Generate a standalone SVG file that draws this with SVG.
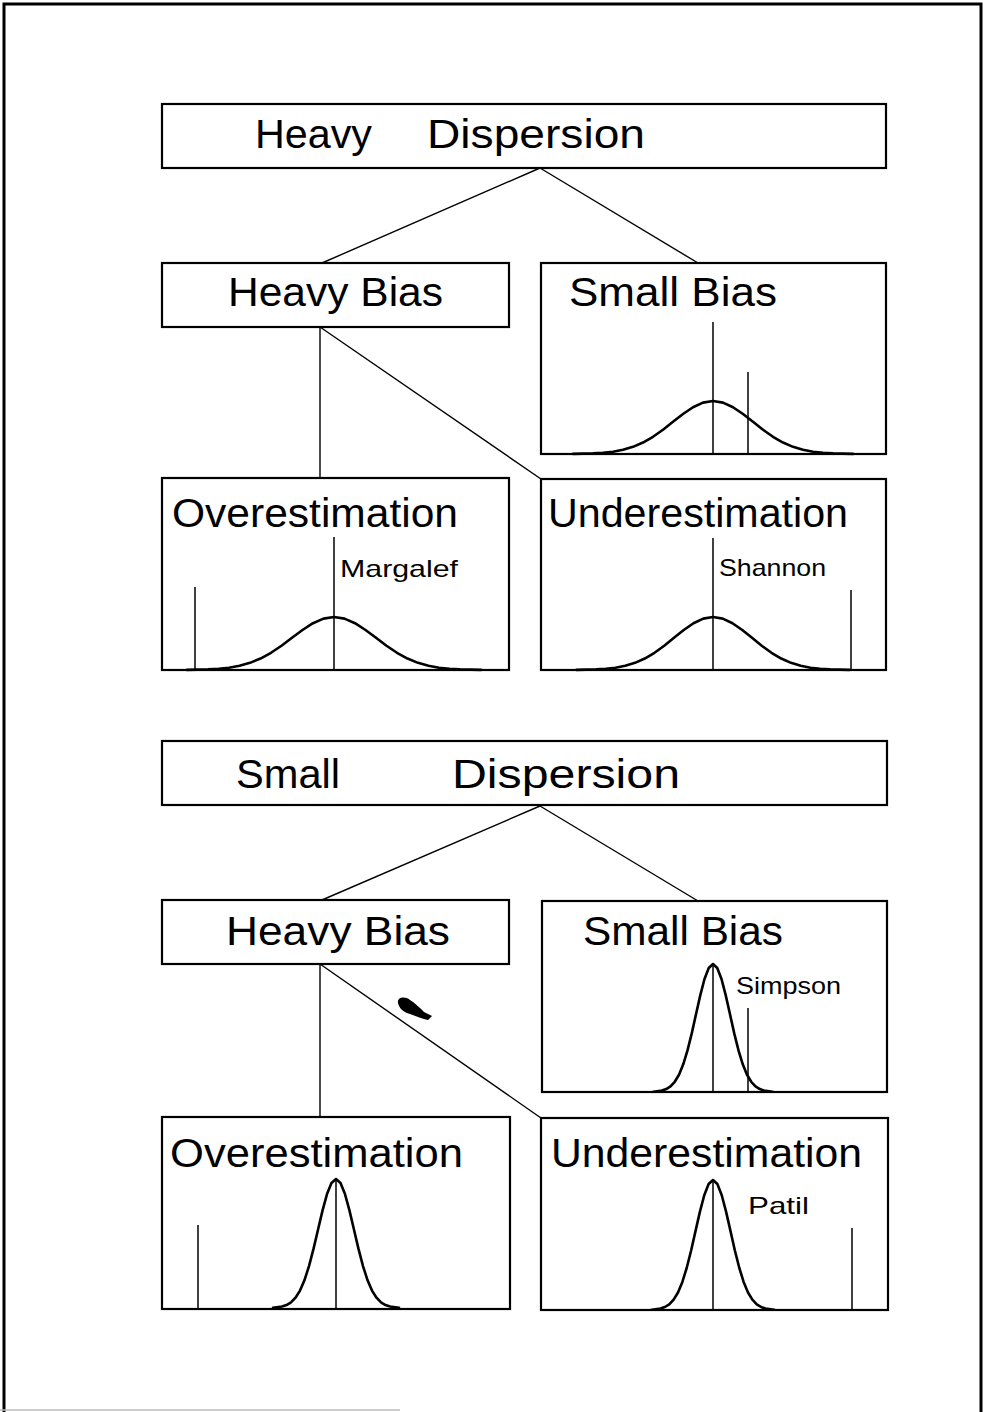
<svg xmlns="http://www.w3.org/2000/svg" width="985" height="1412" viewBox="0 0 985 1412">
<style>
.box{fill:#fff;stroke:#000;stroke-width:2.2}
.conn{stroke:#000;stroke-width:1.4;fill:none}
.tick{stroke:#000;stroke-width:1.5}
.bell{fill:none;stroke:#000;stroke-width:2.6;stroke-linejoin:round;stroke-linecap:round}
.h{font-family:"Liberation Sans",Arial,sans-serif;font-size:40px;fill:#000}
.s{font-family:"Liberation Sans",Arial,sans-serif;font-size:24px;fill:#000}
</style>
<defs>
<path id="g" vector-effect="non-scaling-stroke" d="M-3.5,-0.002 L-3,-0.011 L-2.75,-0.023 L-2.5,-0.044 L-2.25,-0.080 L-2,-0.135 L-1.75,-0.216 L-1.5,-0.325 L-1.25,-0.458 L-1,-0.607 L-0.75,-0.755 L-0.5,-0.883 L-0.25,-0.969 L0,-1 L0.25,-0.969 L0.5,-0.883 L0.75,-0.755 L1,-0.607 L1.25,-0.458 L1.5,-0.325 L1.75,-0.216 L2,-0.135 L2.25,-0.080 L2.5,-0.044 L2.75,-0.023 L3,-0.011 L3.5,-0.002"/>
</defs>
<rect width="985" height="1412" fill="#fff"/>
<path d="M4,1412 V4 H981 V1412" fill="none" stroke="#000" stroke-width="3"/>
<line x1="0" y1="1410" x2="400" y2="1410" stroke="#bbb" stroke-width="1.5"/>

<g id="connectors">
<line class="conn" x1="540" y1="168" x2="322" y2="263"/>
<line class="conn" x1="540" y1="168" x2="698" y2="263"/>
<line class="conn" x1="320" y1="327" x2="320" y2="478"/>
<line class="conn" x1="320" y1="327" x2="541" y2="479"/>
<line class="conn" x1="540" y1="806" x2="322" y2="900"/>
<line class="conn" x1="540" y1="806" x2="698" y2="901"/>
<line class="conn" x1="320" y1="964" x2="320" y2="1117"/>
<line class="conn" x1="320" y1="964" x2="541" y2="1118"/>
</g>

<g id="heavy-dispersion">
<rect class="box" x="162" y="104" width="724" height="64"/>
<text class="h" x="255" y="148" textLength="117" lengthAdjust="spacingAndGlyphs">Heavy</text>
<text class="h" x="427" y="148" textLength="218" lengthAdjust="spacingAndGlyphs">Dispersion</text>
</g>

<g id="hd-heavy-bias">
<rect class="box" x="162" y="263" width="347" height="64"/>
<text class="h" x="228" y="306" textLength="215" lengthAdjust="spacingAndGlyphs">Heavy Bias</text>
</g>

<g id="hd-small-bias">
<rect class="box" x="541" y="263" width="345" height="191"/>
<text class="h" x="569" y="306" textLength="208" lengthAdjust="spacingAndGlyphs">Small Bias</text>
<line class="tick" x1="713" y1="322" x2="713" y2="454"/>
<line class="tick" x1="748" y1="372" x2="748" y2="454"/>
<use href="#g" class="bell" transform="translate(713,454) scale(40,53)"/>
</g>

<g id="hd-overestimation">
<rect class="box" x="162" y="478" width="347" height="192"/>
<text class="h" x="172" y="527" textLength="286" lengthAdjust="spacingAndGlyphs">Overestimation</text>
<line class="tick" x1="334" y1="537" x2="334" y2="670"/>
<line class="tick" x1="195" y1="587" x2="195" y2="670"/>
<text class="s" x="340" y="577" textLength="118" lengthAdjust="spacingAndGlyphs">Margalef</text>
<use href="#g" class="bell" transform="translate(334,670) scale(42,53)"/>
</g>

<g id="hd-underestimation">
<rect class="box" x="541" y="479" width="345" height="191"/>
<text class="h" x="548" y="527" textLength="300" lengthAdjust="spacingAndGlyphs">Underestimation</text>
<line class="tick" x1="713" y1="538" x2="713" y2="670"/>
<line class="tick" x1="851" y1="590" x2="851" y2="670"/>
<text class="s" x="719" y="576" textLength="107" lengthAdjust="spacingAndGlyphs">Shannon</text>
<use href="#g" class="bell" transform="translate(713,670) scale(39,53)"/>
</g>

<g id="small-dispersion">
<rect class="box" x="162" y="741" width="725" height="64"/>
<text class="h" x="236" y="788" textLength="104" lengthAdjust="spacingAndGlyphs">Small</text>
<text class="h" x="452" y="788" textLength="228" lengthAdjust="spacingAndGlyphs">Dispersion</text>
</g>

<g id="sd-heavy-bias">
<rect class="box" x="162" y="900" width="347" height="64"/>
<text class="h" x="226" y="945" textLength="224" lengthAdjust="spacingAndGlyphs">Heavy Bias</text>
</g>

<g id="sd-small-bias">
<rect class="box" x="542" y="901" width="345" height="191"/>
<text class="h" x="583" y="945" textLength="200" lengthAdjust="spacingAndGlyphs">Small Bias</text>
<line class="tick" x1="713" y1="966" x2="713" y2="1092"/>
<line class="tick" x1="748" y1="1008" x2="748" y2="1092"/>
<text class="s" x="736" y="994" textLength="105" lengthAdjust="spacingAndGlyphs">Simpson</text>
<use href="#g" class="bell" transform="translate(713,1092) scale(17,128)"/>
</g>

<g id="smudge">
<path d="M398,1003 C397,997 405,996 410,1000 C415,1003 420,1008 424,1012 L432,1016 L428,1020 C422,1019 416,1016 410,1014 C403,1012 399,1008 398,1003 Z" fill="#000"/>
</g>

<g id="sd-overestimation">
<rect class="box" x="162" y="1117" width="348" height="192"/>
<text class="h" x="170" y="1167" textLength="293" lengthAdjust="spacingAndGlyphs">Overestimation</text>
<line class="tick" x1="336" y1="1180" x2="336" y2="1308"/>
<line class="tick" x1="198" y1="1225" x2="198" y2="1308"/>
<use href="#g" class="bell" transform="translate(336,1308) scale(18,129)"/>
</g>

<g id="sd-underestimation">
<rect class="box" x="541" y="1118" width="347" height="192"/>
<text class="h" x="551" y="1167" textLength="311" lengthAdjust="spacingAndGlyphs">Underestimation</text>
<line class="tick" x1="713" y1="1181" x2="713" y2="1310"/>
<line class="tick" x1="852" y1="1228" x2="852" y2="1310"/>
<text class="s" x="748" y="1214" textLength="61" lengthAdjust="spacingAndGlyphs">Patil</text>
<use href="#g" class="bell" transform="translate(713,1310) scale(17.5,130)"/>
</g>
</svg>
